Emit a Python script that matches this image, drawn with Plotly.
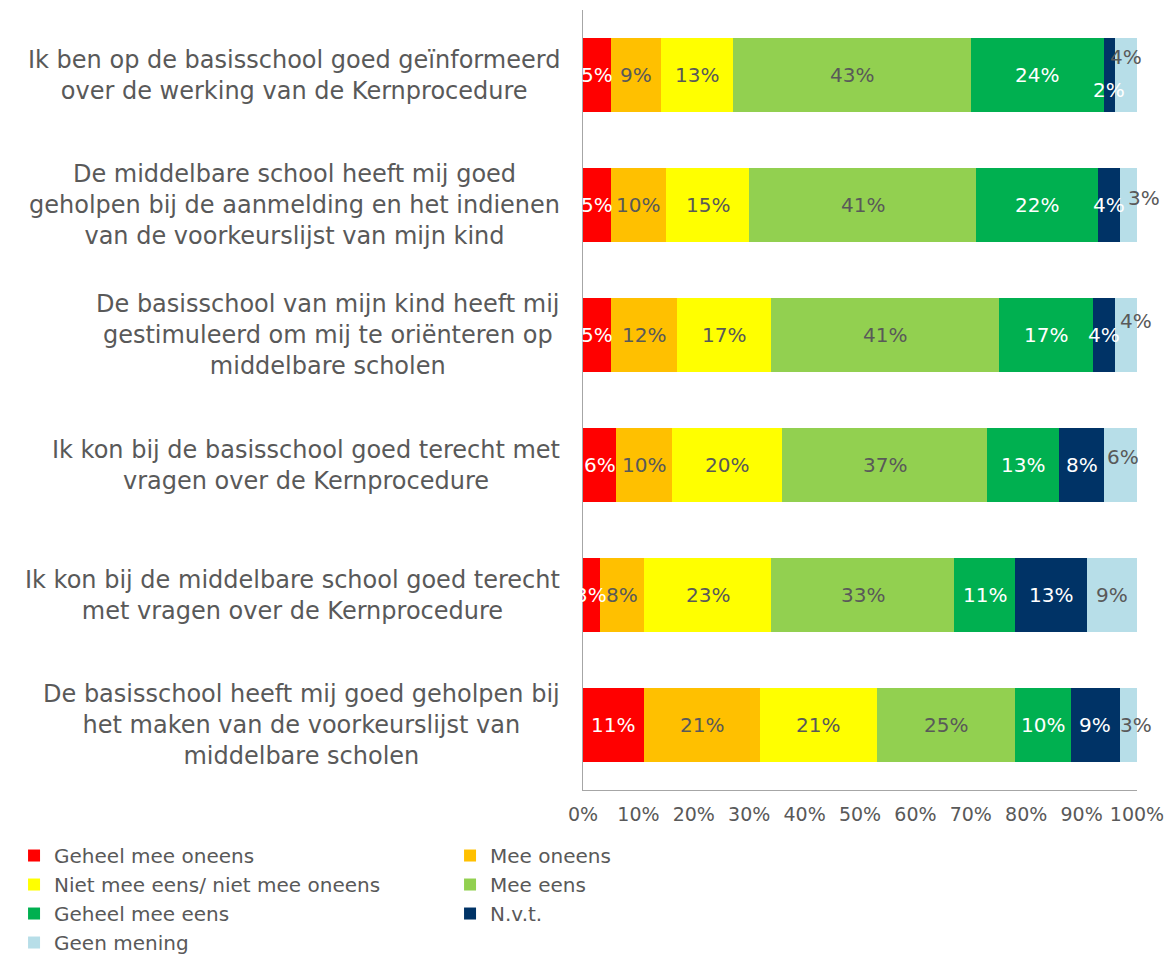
import plotly.graph_objects as go

# Statements (top to bottom)
statements = [
    "Ik ben op de basisschool goed geïnformeerd<br>over de werking van de Kernprocedure",
    "De middelbare school heeft mij goed<br>geholpen bij de aanmelding en het indienen<br>van de voorkeurslijst van mijn kind",
    "De basisschool van mijn kind heeft mij<br>gestimuleerd om mij te oriënteren op<br>middelbare scholen",
    "Ik kon bij de basisschool goed terecht met<br>vragen over de Kernprocedure",
    "Ik kon bij de middelbare school goed terecht<br>met vragen over de Kernprocedure",
    "De basisschool heeft mij goed geholpen bij<br>het maken van de voorkeurslijst van<br>middelbare scholen",
]

answers = [
    "Geheel mee oneens",
    "Mee oneens",
    "Niet mee eens/ niet mee oneens",
    "Mee eens",
    "Geheel mee eens",
    "N.v.t.",
    "Geen mening",
]

geheel_mee_oneens = [5, 5, 5, 6, 3, 11]
mee_oneens = [9, 10, 12, 10, 8, 21]
neutraal = [13, 15, 17, 20, 23, 21]
mee_eens = [43, 41, 41, 37, 33, 25]
geheel_mee_eens = [24, 22, 17, 13, 11, 10]
nvt = [2, 4, 4, 8, 13, 9]
geen_mening = [4, 3, 4, 6, 9, 3]

series = [geheel_mee_oneens, mee_oneens, neutraal, mee_eens, geheel_mee_eens, nvt, geen_mening]

COLORS = ["#FF0000", "#FFC000", "#FFFF00", "#92D050", "#00B050", "#003366", "#B7DEE8"]
LABEL_COLORS = ["white", "#595959", "#595959", "#595959", "white", "white", "#595959"]
TEXT_GRAY = "#595959"
FONT = "DejaVu Sans"

# pixel nudges for crowded labels: (series index, row index) -> (xshift, yshift)
LABEL_NUDGE = {
    (6, 0): (0, 18),
    (5, 0): (0, -15),
    (6, 1): (15, 7),
    (6, 2): (10, 14),
    (6, 3): (3, 8),
    (6, 5): (7, 0),
}

fig = go.Figure()

for name, values, color in zip(answers, series, COLORS):
    fig.add_trace(go.Bar(
        name=name,
        x=[v / 100 for v in values],
        y=statements,
        orientation="h",
        marker_color=color,
        marker_line_width=0,
        width=0.57,
        hoverinfo="skip",
    ))

# value labels centred in each segment
annotations = []
cum = [0] * len(statements)
for s_idx, values in enumerate(series):
    for r_idx, v in enumerate(values):
        dx, dy = LABEL_NUDGE.get((s_idx, r_idx), (0, 0))
        annotations.append(dict(
            x=(cum[r_idx] + v / 2) / 100,
            y=statements[r_idx],
            text=f"{v}%",
            showarrow=False,
            xshift=dx,
            yshift=dy,
            font=dict(family=FONT, size=20, color=LABEL_COLORS[s_idx]),
        ))
        cum[r_idx] += v

# category labels, centred lines like the original
for st in statements:
    annotations.append(dict(
        x=0,
        xref="paper",
        y=st,
        yref="y",
        text=st,
        showarrow=False,
        xanchor="right",
        align="center",
        xshift=-21,
        font=dict(family=FONT, size=24, color=TEXT_GRAY),
    ))

# page body has an 8px margin, so the figure is 8px smaller than the window
fig.update_layout(
    barmode="stack",
    width=1167,
    height=947,
    margin=dict(l=575, r=38, t=2, b=165, autoexpand=False),
    plot_bgcolor="white",
    paper_bgcolor="white",
    font=dict(family=FONT, size=18, color=TEXT_GRAY),
    annotations=annotations,
    xaxis=dict(
        range=[0, 1],
        tickformat=".0%",
        dtick=0.1,
        showgrid=False,
        zeroline=False,
        showline=True,
        linecolor="#A6A6A6",
        linewidth=1,
        tickfont=dict(size=19, color=TEXT_GRAY),
        ticks="",
        ticklabelstandoff=7,
    ),
    yaxis=dict(
        autorange="reversed",
        showticklabels=False,
        showgrid=False,
        showline=True,
        linecolor="#A6A6A6",
        linewidth=1,
        ticks="",
    ),
    legend=dict(
        orientation="h",
        x=-1.027,
        xanchor="left",
        y=-0.059,
        yanchor="top",
        entrywidth=391,
        traceorder="normal",
        font=dict(size=20, color=TEXT_GRAY),
        itemsizing="constant",
        tracegroupgap=0,
    ),
    bargap=0.43,
    showlegend=True,
)

fig.write_html("out.html")
